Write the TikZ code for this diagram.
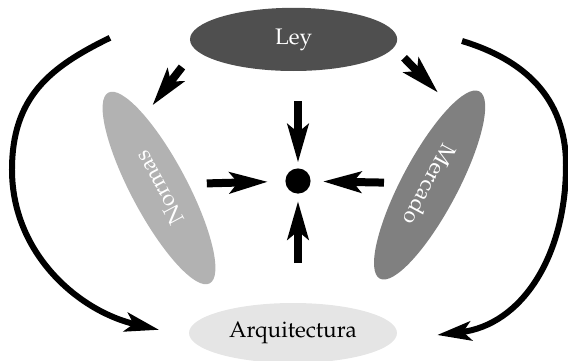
\documentclass[tikz,border=0pt]{standalone}
\usepackage{tikz}
\usepackage[T1]{fontenc}
\usepackage{mathpazo}
\usetikzlibrary{shapes.geometric,arrows.meta}

\begin{document}
\begin{tikzpicture}[scale=1,
    blob/.style={ellipse, inner sep=0pt, font=\fontsize{16}{19}\selectfont},
    fat/.style={line width=0.2cm, -{Stealth[length=0.95cm, width=0.52cm, inset=0.2cm]}},
    swing/.style={line width=0.15cm, -{Stealth[length=0.85cm, width=0.48cm, inset=0.2cm]}}]
    \useasboundingbox (-7.45,-4.475) rectangle (6.75,4.525);
    % the four regulators
    \node[blob, fill=black!69, text=white, minimum width=5.18cm, minimum height=1.58cm] (ley) at (-0.11,3.54){Ley};
    \node[blob, fill=black!30, text=white, minimum width=5.4cm, minimum height=1.4cm, rotate=118] (normas) at (-3.475,-0.175){Normas};
    \node[blob, fill=black!50, text=white, minimum width=5.3cm, minimum height=1.4cm, rotate=-118] (mercado) at (3.29,-0.1){Mercado};
    \node[blob, fill=black!10, text=black, minimum width=5.2cm, minimum height=1.5cm] (arq) at (-0.125,-3.8){Arquitectura};
    \node[circle, fill=black, inner sep=0pt, minimum size=0.63cm] (dot) at (0,0){};
    % arrows into the dot
    \coordinate (up) at (0,2.0);
    \coordinate (down) at (0,-2.05);
    \coordinate (left) at (-2.28,-0.06);
    \coordinate (right) at (2.15,-0.04);
    \draw [fat, shorten >=0.14cm] (up) -- (dot);
    \draw [fat, shorten >=0.18cm] (down) -- (dot);
    \draw [fat, shorten >=0.43cm] (left) -- (dot);
    \draw [fat, shorten >=0.3cm] (right) -- (dot);
    % from Ley to Normas and Mercado
    \coordinate (ln0) at (-2.9,2.85);
    \coordinate (ln1) at (-3.64,1.89);
    \coordinate (lm0) at (2.65,3.08);
    \coordinate (lm1) at (3.5,2.21);
    \draw [fat] (ln0) -- (ln1);
    \draw [fat] (lm0) -- (lm1);
    % the two big swings down to Arquitectura
    \coordinate (sl0) at (-4.7,3.58);
    \coordinate (slm) at (-7.15,0.28);
    \coordinate (sl1) at (-3.475,-3.72);
    \coordinate (sr0) at (4.1,3.5);
    \coordinate (srm) at (6.7,0.4);
    \coordinate (sr1) at (3.48,-3.85);
    \draw [swing] (sl0) .. controls (-6.2,2.85) and (-7.15,2.1) .. (slm)
                        .. controls (-7.15,-1.8) and (-5.5,-3.25) .. (sl1);
    \draw [swing] (sr0) .. controls (5.63,3.04) and (6.7,2.1) .. (srm)
                        .. controls (6.7,-1.9) and (5.58,-3.6) .. (sr1);
\end{tikzpicture}
\end{document}
